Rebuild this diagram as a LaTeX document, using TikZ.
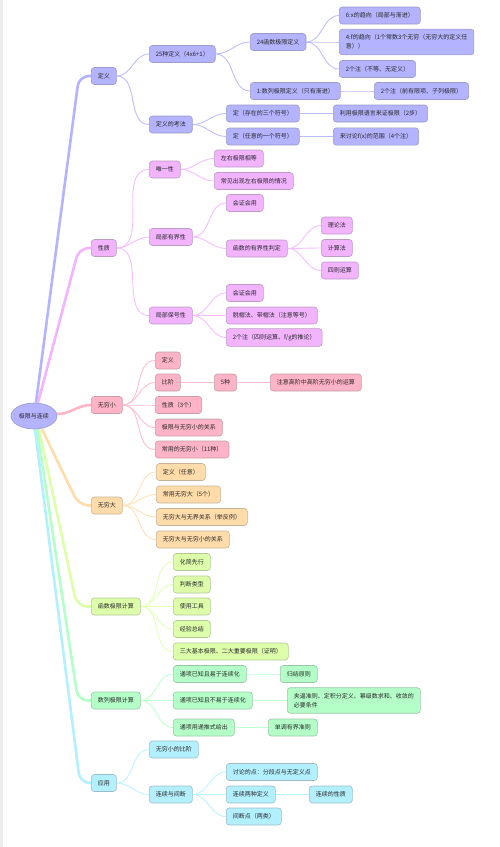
\documentclass[tikz,border=0pt]{standalone}
\usepackage{fontspec}
\usepackage{xcolor}
\usepackage{tikz}
\usetikzlibrary{shapes.geometric,backgrounds}
\newfontfamily\cjk{Noto Sans CJK SC}

\definecolor{ink}{RGB}{40,40,40}
\definecolor{cdy}{RGB}{179,179,255}
\definecolor{cxz}{RGB}{242,179,255}
\definecolor{cwx}{RGB}{255,179,199}
\definecolor{cwd}{RGB}{255,220,170}
\definecolor{chs}{RGB}{221,255,170}
\definecolor{csl}{RGB}{179,255,199}
\definecolor{cyy}{RGB}{179,240,255}

\begin{document}
\begin{tikzpicture}[x=1pt, y=-1pt,
  every node/.style={font=\cjk\fontsize{6}{9}\selectfont, text=ink},
  box/.style={rectangle, rounded corners=3pt, anchor=west, inner xsep=6.5pt, inner ysep=5.5pt, minimum height=17pt, line width=0.6pt, align=left},
  dy/.style={box, fill=cdy, draw=cdy!55!gray},
  xz/.style={box, fill=cxz, draw=cxz!55!gray},
  wx/.style={box, fill=cwx, draw=cwx!55!gray},
  wd/.style={box, fill=cwd, draw=cwd!55!gray},
  hs/.style={box, fill=chs, draw=chs!55!gray},
  sl/.style={box, fill=csl, draw=csl!55!gray},
  yy/.style={box, fill=cyy, draw=cyy!55!gray},
  trunk/.style={line width=2.6pt, rounded corners=10pt},
  twig/.style={line width=0.9pt}]
  \useasboundingbox (0,0) rectangle (500,847);
  \fill[black!7] (0,0) rectangle (3,847);

  % root and main branches
  \node[ellipse, fill=cdy, draw=cdy!55!gray, line width=0.6pt, minimum width=46pt, minimum height=26pt, inner sep=0pt] (root) at (34,416) {极限与连续};
  \node[dy] (d1) at (91,76) {定义};
  \node[xz] (d2) at (91,248) {性质};
  \node[wx] (d3) at (91,405) {无穷小};
  \node[wd] (d4) at (91,505.5) {无穷大};
  \node[hs] (d5) at (91,606.5) {函数极限计算};
  \node[sl] (d6) at (91,700.5) {数列极限计算};
  \node[yy] (d7) at (91,783) {应用};

  % 定义
  \node[dy] (a1) at (149,54) {25种定义（4x6+1）};
  \node[dy] (a11) at (250,42) {24函数极限定义};
  \node[dy] (a111) at (339,15.5) {6:x的趋向（局部与渐进）};
  \node[dy] (a112) at (339,42) {4:f的趋向（1个常数3个无穷（无穷大的定义任\\意））};
  \node[dy] (a113) at (339,69) {2个注（不等、无定义）};
  \node[dy] (a12) at (250,91) {1:数列极限定义（只有渐进）};
  \node[dy] (a121) at (374,91) {2个注（前有限项、子列极限）};
  \node[dy] (a2) at (149,124.5) {定义的考法};
  \node[dy] (a21) at (226,113.5) {定（存在的三个符号）};
  \node[dy] (a211) at (333,113.5) {利用极限语言来证极限（2步）};
  \node[dy] (a22) at (226,136.5) {定（任意的一个符号）};
  \node[dy] (a221) at (333,136.5) {来讨论f(x)的范围（4个注）};

  % 性质
  \node[xz] (b1) at (149,169.5) {唯一性};
  \node[xz] (b11) at (214,158.5) {左右极限相等};
  \node[xz] (b12) at (214,181) {常见出现左右极限的情况};
  \node[xz] (b2) at (149,237) {局部有界性};
  \node[xz] (b21) at (226,203) {会证会用};
  \node[xz] (b22) at (226,248.5) {函数的有界性判定};
  \node[xz] (b221) at (321,225.5) {理论法};
  \node[xz] (b222) at (321,248) {计算法};
  \node[xz] (b223) at (321,270.5) {四则运算};
  \node[xz] (b3) at (149,315.5) {局部保号性};
  \node[xz] (b31) at (226,293) {会证会用};
  \node[xz] (b32) at (226,315.5) {脱帽法、带帽法（注意等号）};
  \node[xz] (b33) at (226,337.5) {2个注（四则运算、f/g的推论）};

  % 无穷小
  \node[wx] (c1) at (155,360.5) {定义};
  \node[wx] (c2) at (155,382.5) {比阶};
  \node[wx] (c21) at (214,382.5) {5种};
  \node[wx] (c22) at (270,382.5) {注意高阶中高阶无穷小的运算};
  \node[wx] (c3) at (155,405) {性质（3个）};
  \node[wx] (c4) at (155,427.5) {极限与无穷小的关系};
  \node[wx] (c5) at (155,449.5) {常用的无穷小（11种）};

  % 无穷大
  \node[wd] (e1) at (156,472) {定义（任意）};
  \node[wd] (e2) at (156,494.5) {常用无穷大（5个）};
  \node[wd] (e3) at (156,517) {无穷大与无界关系（举反例）};
  \node[wd] (e4) at (156,539.5) {无穷大与无穷小的关系};

  % 函数极限计算
  \node[hs] (f1) at (173,562) {化简先行};
  \node[hs] (f2) at (173,584.5) {判断类型};
  \node[hs] (f3) at (173,606.5) {使用工具};
  \node[hs] (f4) at (173,629) {经验总结};
  \node[hs] (f5) at (173,651.5) {三大基本极限、二大重要极限（证明）};

  % 数列极限计算
  \node[sl] (g1) at (173,674) {通项已知且易于连续化};
  \node[sl] (g11) at (280,674) {归结原则};
  \node[sl] (g2) at (173,700.5) {通项已知且不易于连续化};
  \node[sl] (g21) at (287,700.5) {夹逼准则、定积分定义、幂级数求和、收敛的\\必要条件};
  \node[sl] (g3) at (173,727.5) {通项用递推式给出};
  \node[sl] (g31) at (268,727.5) {单调有界准则};

  % 应用
  \node[yy] (h1) at (149,749.5) {无穷小的比阶};
  \node[yy] (h2) at (149,794.5) {连续与间断};
  \node[yy] (h21) at (226,772) {讨论的点：分段点与无定义点};
  \node[yy] (h22) at (226,794.5) {连续两种定义};
  \node[yy] (h221) at (309,794.5) {连续的性质};
  \node[yy] (h23) at (226,816.5) {间断点（两类）};

  \begin{scope}[on background layer]
    % trunks from the root
    \draw[trunk, cdy] ([xshift=2pt]root.north) -- (79,0 |- d1.west) -- (d1.west);
    \draw[trunk, cxz] ([xshift=4pt]root.north) -- (79,0 |- d2.west) -- (d2.west);
    \draw[trunk, cwx] ([yshift=2pt]root.east) to[out=0,in=180] (d3.west);
    \draw[trunk, cwd] ([xshift=8pt]root.south) -- (79,0 |- d4.west) -- (d4.west);
    \draw[trunk, chs] ([xshift=5pt]root.south) -- (77,0 |- d5.west) -- (d5.west);
    \draw[trunk, csl] ([xshift=3pt]root.south) -- (78,0 |- d6.west) -- (d6.west);
    \draw[trunk, cyy] ([xshift=1pt]root.south) -- (80,0 |- d7.west) -- (d7.west);
    % twigs
    \foreach \a/\b in {d1/a1, d1/a2, a1/a11, a1/a12, a11/a111, a11/a112, a11/a113, a12/a121, a2/a21, a2/a22, a21/a211, a22/a221}
      \draw[twig, cdy!85!white] (\a.east) to[out=0,in=180] (\b.west);
    \foreach \a/\b in {d2/b1, d2/b2, d2/b3, b1/b11, b1/b12, b2/b21, b2/b22, b22/b221, b22/b222, b22/b223, b3/b31, b3/b32, b3/b33}
      \draw[twig, cxz!85!white] (\a.east) to[out=0,in=180] (\b.west);
    \foreach \a/\b in {d3/c1, d3/c2, d3/c3, d3/c4, d3/c5, c2/c21, c21/c22}
      \draw[twig, cwx!85!white] (\a.east) to[out=0,in=180] (\b.west);
    \foreach \a/\b in {d4/e1, d4/e2, d4/e3, d4/e4}
      \draw[twig, cwd!85!white] (\a.east) to[out=0,in=180] (\b.west);
    \foreach \a/\b in {d5/f1, d5/f2, d5/f3, d5/f4, d5/f5}
      \draw[twig, chs!85!white] (\a.east) to[out=0,in=180] (\b.west);
    \foreach \a/\b in {d6/g1, d6/g2, d6/g3, g1/g11, g2/g21, g3/g31}
      \draw[twig, csl!85!white] (\a.east) to[out=0,in=180] (\b.west);
    \foreach \a/\b in {d7/h1, d7/h2, h2/h21, h2/h22, h2/h23, h22/h221}
      \draw[twig, cyy!85!white] (\a.east) to[out=0,in=180] (\b.west);
  \end{scope}
\end{tikzpicture}
\end{document}
